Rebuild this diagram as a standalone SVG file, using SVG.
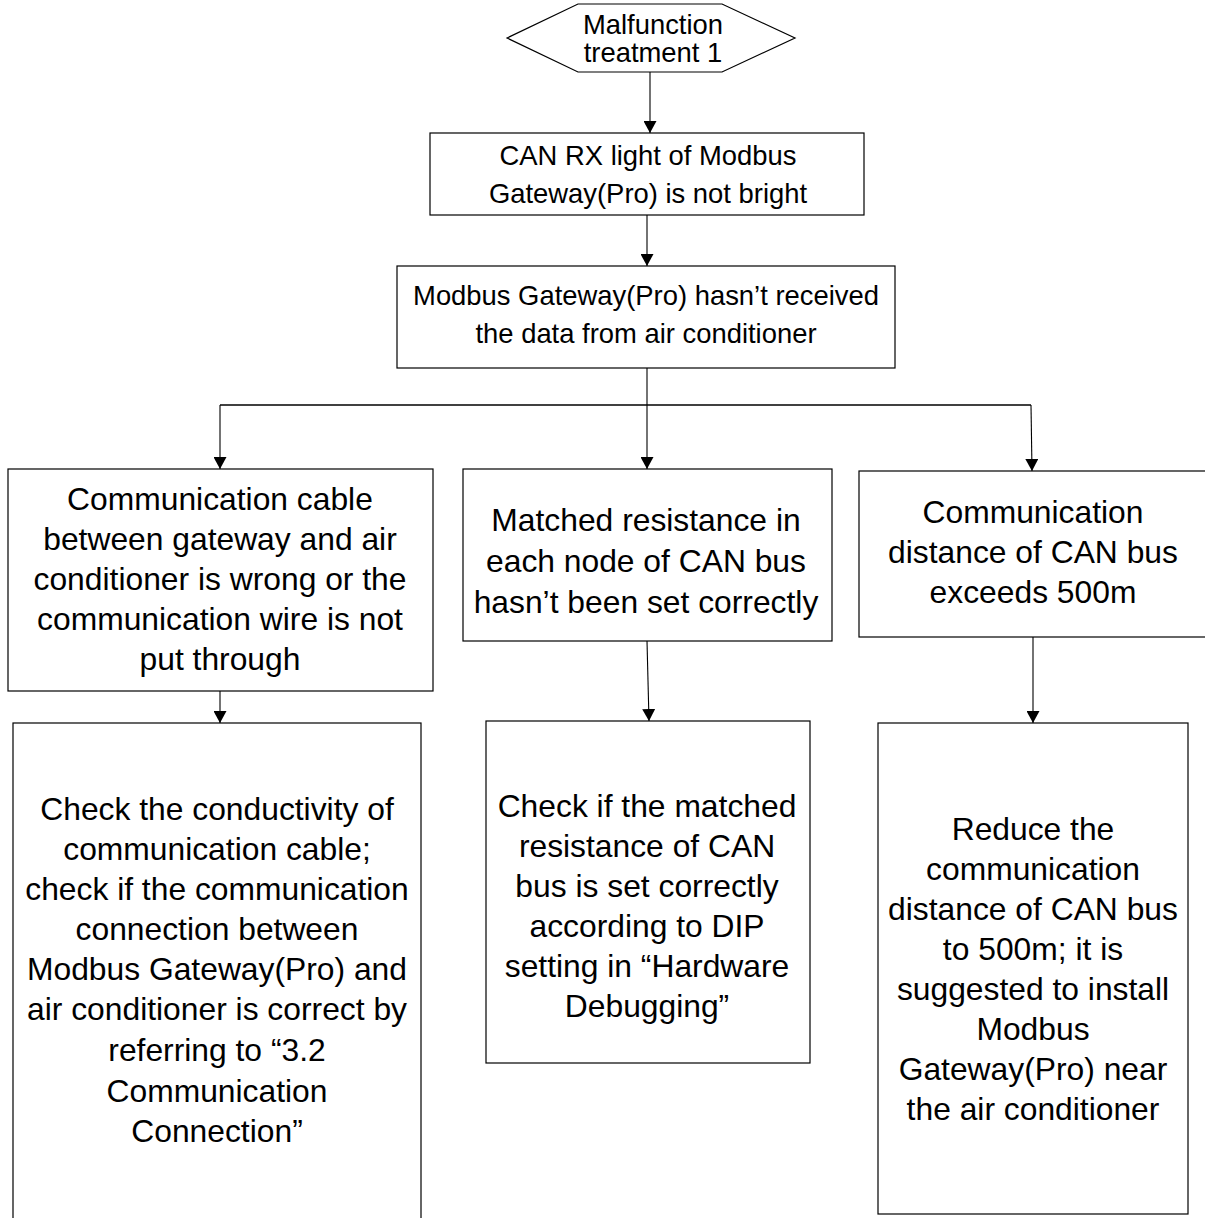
<svg xmlns="http://www.w3.org/2000/svg" width="1205" height="1218" viewBox="0 0 1205 1218">
<defs>
<style>
.box{fill:#fff;stroke:#000;stroke-width:1.2}
.t{font-family:"Liberation Sans",Arial,sans-serif;fill:#000;text-anchor:middle}
.s{font-size:27.4px}
.b{font-size:31.8px}
.c{fill:none;stroke:#000;stroke-width:1.1}
</style>
<marker id="ah" viewBox="0 0 12 13" refX="12" refY="6.5" markerWidth="12" markerHeight="13" markerUnits="userSpaceOnUse" orient="auto">
<path d="M0,0 L12,6.5 L0,13 Z" fill="#000"/>
</marker>
</defs>
<rect width="1205" height="1218" fill="#fff"/>
<g id="connectors">
<line class="c" x1="650" y1="72" x2="650" y2="133" marker-end="url(#ah)"/>
<line class="c" x1="647" y1="215" x2="647" y2="266" marker-end="url(#ah)"/>
<line class="c" x1="647" y1="368" x2="647" y2="405"/>
<line class="c" x1="220" y1="405" x2="1031" y2="405" style="stroke-width:1.6"/>
<line class="c" x1="220" y1="405" x2="220" y2="469" marker-end="url(#ah)"/>
<line class="c" x1="647" y1="405" x2="647" y2="469" marker-end="url(#ah)"/>
<line class="c" x1="1031" y1="405" x2="1032" y2="471" marker-end="url(#ah)"/>
<line class="c" x1="220" y1="691" x2="220" y2="723" marker-end="url(#ah)"/>
<line class="c" x1="647" y1="641" x2="649" y2="721" marker-end="url(#ah)"/>
<line class="c" x1="1033" y1="637" x2="1033" y2="723" marker-end="url(#ah)"/>
</g>
<g id="start">
<polygon class="box" points="507,38 578,4 722,4 795,38 722,72 578,72"/>
<text class="t s" x="653" y="34">Malfunction</text>
<text class="t s" x="653" y="62">treatment 1</text>
</g>
<g id="n1">
<rect class="box" x="430" y="133" width="434" height="82"/>
<text class="t s" x="648" y="165">CAN RX light of Modbus</text>
<text class="t s" x="648" y="203">Gateway(Pro) is not bright</text>
</g>
<g id="n2">
<rect class="box" x="397" y="266" width="498" height="102"/>
<text class="t s" x="646" y="305">Modbus Gateway(Pro) hasn’t received</text>
<text class="t s" x="646" y="343">the data from air conditioner</text>
</g>
<g id="c1">
<rect class="box" x="8" y="469" width="425" height="222"/>
<text class="t b" x="220" y="510">Communication cable</text>
<text class="t b" x="220" y="550">between gateway and air</text>
<text class="t b" x="220" y="590">conditioner is wrong or the</text>
<text class="t b" x="220" y="630">communication wire is not</text>
<text class="t b" x="220" y="670">put through</text>
</g>
<g id="c2">
<rect class="box" x="463" y="469" width="369" height="172"/>
<text class="t b" x="646" y="531">Matched resistance in</text>
<text class="t b" x="646" y="572">each node of CAN bus</text>
<text class="t b" x="646" y="613">hasn’t been set correctly</text>
</g>
<g id="c3">
<rect class="box" x="859" y="471" width="360" height="166"/>
<text class="t b" x="1033" y="523">Communication</text>
<text class="t b" x="1033" y="563">distance of CAN bus</text>
<text class="t b" x="1033" y="603">exceeds 500m</text>
</g>
<g id="a1">
<rect class="box" x="13" y="723" width="408" height="520"/>
<text class="t b" x="217" y="820">Check the conductivity of</text>
<text class="t b" x="217" y="860">communication cable;</text>
<text class="t b" x="217" y="900">check if the communication</text>
<text class="t b" x="217" y="940">connection between</text>
<text class="t b" x="217" y="980">Modbus Gateway(Pro) and</text>
<text class="t b" x="217" y="1020">air conditioner is correct by</text>
<text class="t b" x="217" y="1061">referring to “3.2</text>
<text class="t b" x="217" y="1102">Communication</text>
<text class="t b" x="217" y="1142">Connection”</text>
</g>
<g id="a2">
<rect class="box" x="486" y="721" width="324" height="342"/>
<text class="t b" x="647" y="817">Check if the matched</text>
<text class="t b" x="647" y="857">resistance of CAN</text>
<text class="t b" x="647" y="897">bus is set correctly</text>
<text class="t b" x="647" y="937">according to DIP</text>
<text class="t b" x="647" y="977">setting in “Hardware</text>
<text class="t b" x="647" y="1017">Debugging”</text>
</g>
<g id="a3">
<rect class="box" x="878" y="723" width="310" height="491"/>
<text class="t b" x="1033" y="840">Reduce the</text>
<text class="t b" x="1033" y="880">communication</text>
<text class="t b" x="1033" y="920">distance of CAN bus</text>
<text class="t b" x="1033" y="960">to 500m; it is</text>
<text class="t b" x="1033" y="1000">suggested to install</text>
<text class="t b" x="1033" y="1040">Modbus</text>
<text class="t b" x="1033" y="1080">Gateway(Pro) near</text>
<text class="t b" x="1033" y="1120">the air conditioner</text>
</g>
</svg>
